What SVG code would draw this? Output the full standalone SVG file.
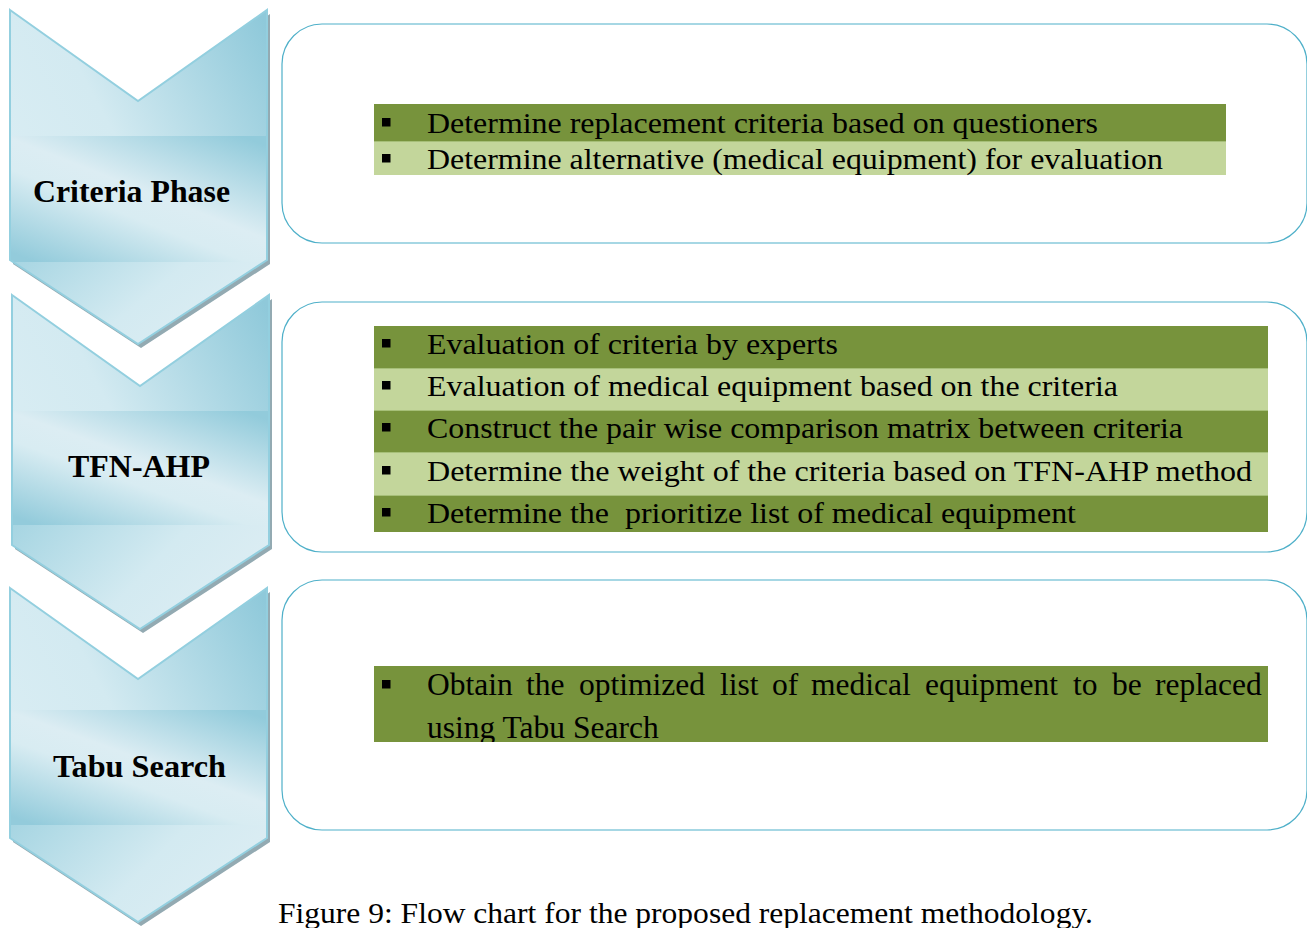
<svg xmlns="http://www.w3.org/2000/svg" xmlns:xlink="http://www.w3.org/1999/xlink" width="1307" height="928" viewBox="0 0 1307 928">
  <style>
    text { font-family: 'Liberation Serif', 'Times New Roman', Times, serif; fill: #000; }
    .label { font-weight: bold; font-size: 31px; }
    .item { font-size: 30px; }
    .wide { font-size: 31.5px; }
    .caption { font-size: 30px; }
    .panel { fill: #ffffff; stroke: #4fb0c9; stroke-width: 1.2; }
    .dark { fill: #77933c; }
    .light { fill: #c3d69b; }
    .sep { stroke: #a6bf78; stroke-width: 1; }
    .bullet { fill: #000; }
    .shadow { fill: #93aab2; }
    .outline { fill: none; stroke: #93cfdf; stroke-width: 2; stroke-linejoin: miter; }
  </style>
  <defs>
    <!-- chevron outline in local coordinates -->
    <path id="chev" d="M0,0 L128,91 L257,0 L257,250 L128,334 L0,250 Z"/>
    <clipPath id="chevClip">
      <path d="M0,0 L128,91 L257,0 L257,250 L128,334 L0,250 Z"/>
    </clipPath>
    <linearGradient id="gTop" x1="0" y1="0.75" x2="1" y2="0.05">
      <stop offset="0" stop-color="#dbeef4"/>
      <stop offset="0.45" stop-color="#d3eaf1"/>
      <stop offset="1" stop-color="#8fc9da"/>
    </linearGradient>
    <linearGradient id="gBand" x1="0.9" y1="0" x2="0.1" y2="1">
      <stop offset="0" stop-color="#92cbdb"/>
      <stop offset="0.45" stop-color="#dcedf3"/>
      <stop offset="0.6" stop-color="#d8ecf2"/>
      <stop offset="1" stop-color="#93cbdb"/>
    </linearGradient>
    <linearGradient id="gBottom" x1="0" y1="0" x2="1" y2="0.4">
      <stop offset="0" stop-color="#a6d5e2"/>
      <stop offset="0.6" stop-color="#d3eaf1"/>
      <stop offset="1" stop-color="#dcedf3"/>
    </linearGradient>
    <clipPath id="tabuTextClip">
      <rect x="374" y="666" width="894" height="76"/>
    </clipPath>
  </defs>

  <!-- phase chevrons -->
  <g id="phase-criteria">
    <g transform="translate(10,10)">
      <use xlink:href="#chev" class="shadow" transform="translate(3,4)"/>
      <use xlink:href="#chev" fill="url(#gTop)"/>
      <rect x="0" y="126" width="257" height="126" fill="url(#gBand)" clip-path="url(#chevClip)"/>
      <rect x="0" y="252" width="257" height="84" fill="url(#gBottom)" clip-path="url(#chevClip)"/>
      <use xlink:href="#chev" class="outline"/>
    </g>
    <text class="label" x="33" y="202" textLength="197" lengthAdjust="spacingAndGlyphs">Criteria Phase</text>
  </g>

  <g id="phase-tfn-ahp">
    <g transform="translate(12,295)">
      <use xlink:href="#chev" class="shadow" transform="translate(3,4)"/>
      <use xlink:href="#chev" fill="url(#gTop)"/>
      <rect x="0" y="116" width="257" height="114" fill="url(#gBand)" clip-path="url(#chevClip)"/>
      <rect x="0" y="230" width="257" height="106" fill="url(#gBottom)" clip-path="url(#chevClip)"/>
      <use xlink:href="#chev" class="outline"/>
    </g>
    <text class="label" x="68" y="477" textLength="142" lengthAdjust="spacingAndGlyphs">TFN-AHP</text>
  </g>

  <g id="phase-tabu">
    <g transform="translate(10,588)">
      <use xlink:href="#chev" class="shadow" transform="translate(3,4)"/>
      <use xlink:href="#chev" fill="url(#gTop)"/>
      <rect x="0" y="122" width="257" height="115" fill="url(#gBand)" clip-path="url(#chevClip)"/>
      <rect x="0" y="237" width="257" height="100" fill="url(#gBottom)" clip-path="url(#chevClip)"/>
      <use xlink:href="#chev" class="outline"/>
    </g>
    <text class="label" x="53" y="777" textLength="173" lengthAdjust="spacingAndGlyphs">Tabu Search</text>
  </g>

  <!-- step panels -->
  <g id="panel-criteria">
    <rect class="panel" x="282" y="24" width="1025" height="219" rx="40" ry="40"/>
    <rect class="dark" x="374" y="104" width="852" height="37"/>
    <rect class="light" x="374" y="141" width="852" height="34"/>
    <line class="sep" x1="374" y1="141.5" x2="1226" y2="141.5"/>
    <rect class="bullet" x="382" y="118" width="8.5" height="8.5"/>
    <rect class="bullet" x="382" y="154" width="8.5" height="8.5"/>
    <text class="item" x="427" y="133" textLength="671" lengthAdjust="spacingAndGlyphs">Determine replacement criteria based on questioners</text>
    <text class="item" x="427" y="169" textLength="736" lengthAdjust="spacingAndGlyphs">Determine alternative (medical equipment) for evaluation</text>
  </g>

  <g id="panel-tfn-ahp">
    <rect class="panel" x="282" y="302" width="1025" height="250" rx="40" ry="40"/>
    <rect class="dark" x="374" y="326" width="894" height="42"/>
    <rect class="light" x="374" y="368" width="894" height="42"/>
    <rect class="dark" x="374" y="410" width="894" height="42"/>
    <rect class="light" x="374" y="452" width="894" height="43"/>
    <rect class="dark" x="374" y="495" width="894" height="37"/>
    <line class="sep" x1="374" y1="368.5" x2="1268" y2="368.5"/>
    <line class="sep" x1="374" y1="410.5" x2="1268" y2="410.5"/>
    <line class="sep" x1="374" y1="452.5" x2="1268" y2="452.5"/>
    <line class="sep" x1="374" y1="495.5" x2="1268" y2="495.5"/>
    <rect class="bullet" x="382" y="339" width="8.5" height="8.5"/>
    <rect class="bullet" x="382" y="381" width="8.5" height="8.5"/>
    <rect class="bullet" x="382" y="423" width="8.5" height="8.5"/>
    <rect class="bullet" x="382" y="466" width="8.5" height="8.5"/>
    <rect class="bullet" x="382" y="508" width="8.5" height="8.5"/>
    <text class="item" x="427" y="354" textLength="411" lengthAdjust="spacingAndGlyphs">Evaluation of criteria by experts</text>
    <text class="item" x="427" y="396" textLength="691" lengthAdjust="spacingAndGlyphs">Evaluation of medical equipment based on the criteria</text>
    <text class="item" x="427" y="438" textLength="756" lengthAdjust="spacingAndGlyphs">Construct the pair wise comparison matrix between criteria</text>
    <text class="item" x="427" y="481" textLength="825" lengthAdjust="spacingAndGlyphs">Determine the weight of the criteria based on TFN-AHP method</text>
    <text class="item" x="427" y="523" textLength="649" lengthAdjust="spacingAndGlyphs" xml:space="preserve">Determine the  prioritize list of medical equipment</text>
  </g>

  <g id="panel-tabu">
    <rect class="panel" x="282" y="580" width="1025" height="250" rx="40" ry="40"/>
    <rect class="dark" x="374" y="666" width="894" height="76"/>
    <rect class="bullet" x="382" y="680" width="8.5" height="8.5"/>
    <!-- justified first line: each word placed explicitly -->
    <g clip-path="url(#tabuTextClip)">
      <text class="wide" y="695"><tspan x="427">Obtain</tspan><tspan x="526">the</tspan><tspan x="579">optimized</tspan><tspan x="720">list</tspan><tspan x="772">of</tspan><tspan x="811">medical</tspan><tspan x="925">equipment</tspan><tspan x="1073">to</tspan><tspan x="1112">be</tspan><tspan x="1155">replaced</tspan></text>
      <text class="wide" x="427" y="738">using Tabu Search</text>
    </g>
  </g>

  <!-- no separate connector lines: the chevrons carry the flow -->
  <g id="connectors"/>

  <g id="caption">
    <text class="caption" x="278" y="923" textLength="815" lengthAdjust="spacingAndGlyphs">Figure 9: Flow chart for the proposed replacement methodology.</text>
  </g>
</svg>
